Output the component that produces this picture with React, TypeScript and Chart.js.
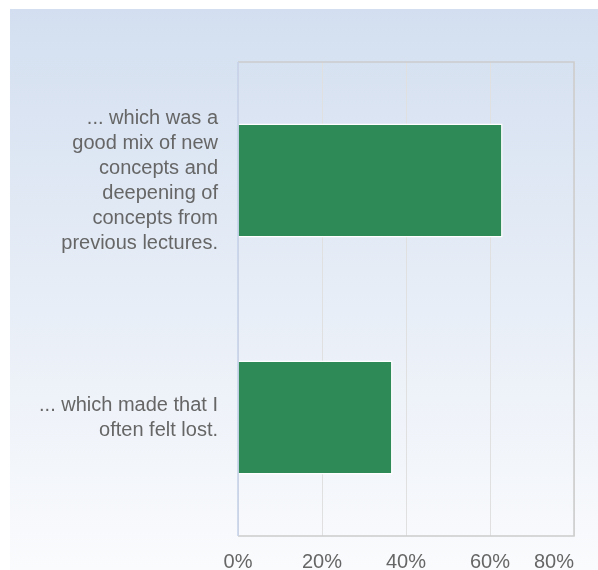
import React, { useEffect, useRef } from "react";
import { Chart, registerables } from "chart.js";

Chart.register(...registerables);

const categories: string[][] = [
  ["... which was a", "good mix of new", "concepts and", "deepening of", "concepts from", "previous lectures."],
  ["... which made that I", "often felt lost."],
];
const shares: number[] = [63.0, 36.8];
const xTicks: number[] = [0, 20, 40, 60, 80];
const xTickLabels: string[] = ["0%", "20%", "40%", "60%", "80%"];

const W = 598;
const H = 570;
const FONT = "'Liberation Sans', Arial, sans-serif";

const bgPlugin = {
  id: "bg",
  beforeDraw(chart: any) {
    const ctx = chart.ctx;
    ctx.save();
    ctx.fillStyle = "#ffffff";
    ctx.fillRect(0, 0, W, H);
    const g = ctx.createLinearGradient(0, 9, 0, H);
    g.addColorStop(0, "#d3dff0");
    g.addColorStop(1, "#fafbfd");
    ctx.fillStyle = g;
    ctx.fillRect(10, 9, W - 10, H - 9);
    ctx.restore();
  },
};

const framePlugin = {
  id: "frame",
  afterDraw(chart: any) {
    const { ctx, chartArea } = chart;
    const { left, right, top, bottom } = chartArea;
    ctx.save();
    ctx.lineWidth = 1.5;
    ctx.strokeStyle = "#cccccc";
    ctx.beginPath();
    ctx.moveTo(left, top);
    ctx.lineTo(right, top);
    ctx.lineTo(right, bottom);
    ctx.lineTo(left, bottom);
    ctx.stroke();
    ctx.strokeStyle = "#c3d1e8";
    ctx.beginPath();
    ctx.moveTo(left, top);
    ctx.lineTo(left, bottom);
    ctx.stroke();
    const xs = chart.scales.x;
    ctx.fillStyle = "#666666";
    ctx.font = `20px ${FONT}`;
    ctx.textBaseline = "alphabetic";
    xTicks.forEach((v, i) => {
      const px = xs.getPixelForValue(v);
      ctx.textAlign = i === xTicks.length - 1 ? "right" : "center";
      ctx.fillText(xTickLabels[i], px, 568);
    });
    ctx.restore();
  },
};

const zeroPad = (s: any) => {
  s.paddingTop = 0;
  s.paddingBottom = 0;
  s.paddingLeft = 0;
  s.paddingRight = 0;
};

export default function App() {
  const ref = useRef<HTMLCanvasElement | null>(null);
  useEffect(() => {
    document.body.style.margin = "0";
    const canvas = ref.current!;
    const chart = new Chart(canvas, {
      type: "bar",
      data: {
        labels: categories,
        datasets: [
          {
            data: shares,
            backgroundColor: "#2e8b57",
            borderColor: "#ffffff",
            borderWidth: 1.5,
            barPercentage: 0.6,
            categoryPercentage: 0.8,
          },
        ],
      },
      options: {
        indexAxis: "y",
        animation: false,
        responsive: false,
        devicePixelRatio: 1,
        layout: { padding: { left: 0, top: 62, right: 24, bottom: 0 } },
        plugins: {
          legend: { display: false },
          tooltip: { enabled: false },
        },
        scales: {
          x: {
            min: 0,
            max: 80,
            afterBuildTicks: (s: any) => {
              s.ticks = xTicks.map((v) => ({ value: v }));
            },
            ticks: { display: false },
            grid: { color: "#e0e0e0", lineWidth: 1, drawTicks: false },
            border: { display: false },
            afterFit: (s: any) => {
              s.height = 34;
              zeroPad(s);
            },
          },
          y: {
            grid: { display: false, drawTicks: false },
            border: { display: false },
            ticks: {
              color: "#666666",
              font: { family: FONT, size: 20, lineHeight: 1.25 },
              padding: 20,
            },
            afterFit: (s: any) => {
              s.width = 238;
              zeroPad(s);
            },
          },
        },
      },
      plugins: [bgPlugin, framePlugin],
    });
    return () => chart.destroy();
  }, []);
  return (
    <div style={{ width: W, height: H }}>
      <canvas ref={ref} width={W} height={H} style={{ display: "block" }} />
    </div>
  );
}
